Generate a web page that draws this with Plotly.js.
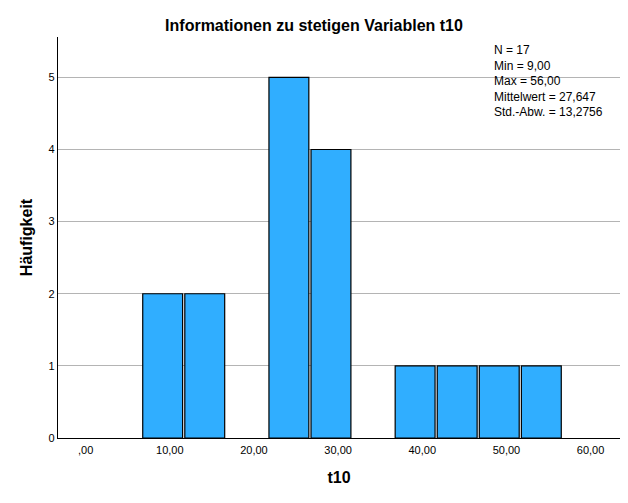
<!DOCTYPE html>
<html>
<head>
<meta charset="utf-8">
<script src="https://cdn.plot.ly/plotly-3.0.1.min.js"></script>
<style>html,body{margin:0;padding:0;background:#fff;}#chart{width:628px;height:503px;}</style>
</head>
<body>
<div id="chart"></div>
<script>
// Histogram bins (centers) and counts
const binCenters = [9.15, 14.15, 19.15, 24.15, 29.15, 34.15, 39.15, 44.15, 49.15, 54.15];
const counts = [2, 2, 0, 5, 4, 0, 1, 1, 1, 1];
const xTickVals = [0, 10, 20, 30, 40, 50, 60];
const xTickText = [',00', '10,00', '20,00', '30,00', '40,00', '50,00', '60,00'];
const yTickVals = [0, 1, 2, 3, 4, 5];
const yTickText = ['0', '1', '2', '3', '4', '5'];
const statLines = ['N = 17', 'Min = 9,00', 'Max = 56,00', 'Mittelwert = 27,647', 'Std.-Abw. = 13,2756'];

const FONT = 'Arial, "Liberation Sans", sans-serif';

const trace = {
  type: 'bar',
  x: binCenters,
  // empty bins are not drawn (no outline on the baseline)
  y: counts.map(c => (c === 0 ? null : c)),
  width: 4.74,
  marker: {color: '#30aeff', line: {color: '#000000', width: 1.2}},
  hoverinfo: 'none'
};

const layout = {
  width: 628, height: 503,
  margin: {l: 58, r: 8, t: 37, b: 65, pad: 0},
  paper_bgcolor: '#ffffff', plot_bgcolor: '#ffffff',
  showlegend: false,
  font: {family: FONT, color: '#000'},
  title: {
    text: '<b>Informationen zu stetigen Variablen t10</b>',
    font: {family: FONT, size: 16, color: '#000'},
    x: 0.5, xref: 'container', xanchor: 'center',
    y: 1 - 25.5 / 503, yref: 'container', yanchor: 'middle'
  },
  xaxis: {
    range: [-3.29, 63.5],
    tickmode: 'array', tickvals: xTickVals, ticktext: xTickText,
    tickfont: {family: FONT, size: 11, color: '#000'},
    ticks: '', showgrid: false, zeroline: false,
    showline: true, linecolor: '#000', linewidth: 1.3,
    ticklabelstandoff: 1,
    title: {text: '<b>t10</b>', font: {family: FONT, size: 16, color: '#000'}, standoff: 17}
  },
  yaxis: {
    range: [0, 5.56],
    tickmode: 'array', tickvals: yTickVals, ticktext: yTickText,
    tickfont: {family: FONT, size: 11, color: '#000'},
    ticks: '', showgrid: true, gridcolor: '#b4b4b4', gridwidth: 1,
    zeroline: false,
    showline: true, linecolor: '#000', linewidth: 1.3,
    ticklabelstandoff: 0,
    title: {text: '<b>Häufigkeit</b>', font: {family: FONT, size: 16, color: '#000'}, standoff: 11}
  },
  annotations: [{
    text: statLines.join('<br>'),
    xref: 'paper', yref: 'paper',
    x: 0.7740, y: 1 - (42 - 37) / 401,
    xanchor: 'left', yanchor: 'top', align: 'left',
    showarrow: false, borderpad: 0,
    font: {family: FONT, size: 12, color: '#000'}
  }]
};

Plotly.newPlot('chart', [trace], layout, {displayModeBar: false, staticPlot: true});
</script>
</body>
</html>
